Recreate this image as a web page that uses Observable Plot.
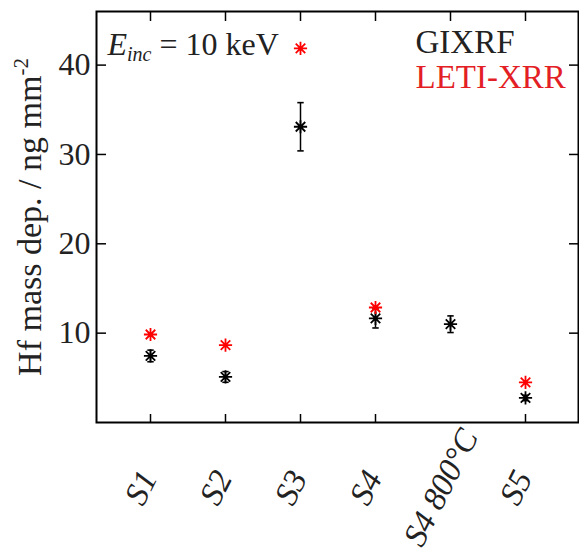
<!DOCTYPE html>
<html><head><meta charset="utf-8">
<script src="https://cdn.jsdelivr.net/npm/d3@7"></script>
<script src="https://cdn.jsdelivr.net/npm/@observablehq/plot@0.6"></script>
<style>html,body{margin:0;padding:0;background:#fff;overflow:hidden} svg{display:block}</style>
</head><body><div id="chart"></div>
<script>
const samples = ["S1", "S2", "S3", "S4", "S4 800°C", "S5"];
const gixrf = [7.45, 5.1, 33.1, 11.65, 11.0, 2.75];
const gixrfErr = [0.65, 0.6, 2.7, 1.07, 0.93, 0.3];
const letiXrr = [9.85, 8.65, 41.87, 12.87, null, 4.48];
const yTicks = [10, 20, 30, 40];
const bottomTicks = ["S1", "S2", "S3", "S4", "S5"];
const seriesNames = ["GIXRF", "LETI-XRR"];
const energyLabel = "E_inc = 10 keV";
const yLabel = "Hf mass dep. / ng mm-2";

const gData = samples.map((s, i) => ({sample: s, value: gixrf[i], err: gixrfErr[i]}));
const lData = samples.map((s, i) => ({sample: s, value: letiXrr[i]})).filter(d => d.value != null);

const asterisk = {draw(ctx, size) {
  const r = Math.sqrt(size / Math.PI), d = r * 0.72;
  ctx.moveTo(-r, 0); ctx.lineTo(r, 0);
  ctx.moveTo(0, -r); ctx.lineTo(0, r);
  ctx.moveTo(-d, -d); ctx.lineTo(d, d);
  ctx.moveTo(-d, d); ctx.lineTo(d, -d);
}};
const cap = {draw(ctx, size) {
  const r = Math.sqrt(size / Math.PI);
  ctx.moveTo(-r, 0); ctx.lineTo(r, 0);
}};

const font = "Liberation Serif";
const chart = Plot.plot({
  width: 579, height: 554,
  marginLeft: 96, marginRight: 1, marginTop: 11, marginBottom: 132,
  style: {background: "white", color: "black"},
  x: {type: "point", domain: samples, padding: 0.68},
  y: {domain: [0, 46]},
  marks: [
    Plot.axisY({anchor: "left", ticks: yTicks, tickSize: -10, tickFormat: () => "", label: null, strokeWidth: 1.5}),
    Plot.axisY({anchor: "left", ticks: yTicks, tickSize: 0, tickPadding: 6, fontSize: 32, label: null, fill: "#222"}),
    Plot.axisY({anchor: "right", ticks: yTicks, tickSize: -10, tickFormat: () => "", label: null, strokeWidth: 1.5}),
    Plot.axisX({anchor: "top", tickSize: -9, tickFormat: () => "", label: null, strokeWidth: 1.5}),
    Plot.axisX({anchor: "bottom", ticks: bottomTicks, tickSize: -8, tickFormat: () => "", label: null, strokeWidth: 1.5}),
    Plot.frame({stroke: "black", strokeWidth: 2}),
    Plot.text(samples, {x: d => d, frameAnchor: "bottom", dy: 70, rotate: -63, textAnchor: "middle", fontSize: 33, fontStyle: "italic", fill: "#222"}),
    Plot.ruleX(gData, {x: "sample", y1: d => d.value - d.err, y2: d => d.value + d.err, stroke: "black", strokeWidth: 1.5}),
    Plot.dot(gData, {x: "sample", y: d => d.value - d.err, symbol: cap, r: 3.2, stroke: "black", strokeWidth: 1.6}),
    Plot.dot(gData, {x: "sample", y: d => d.value + d.err, symbol: cap, r: 3.2, stroke: "black", strokeWidth: 1.6}),
    Plot.dot(gData, {x: "sample", y: "value", symbol: asterisk, r: 6.6, stroke: "black", strokeWidth: 1.8}),
    Plot.dot(lData, {x: "sample", y: "value", symbol: asterisk, r: 6.6, stroke: "red", strokeWidth: 1.8}),
    Plot.text([seriesNames[0]], {frameAnchor: "top-left", dx: 319, dy: 18, lineAnchor: "top", textAnchor: "start", fontSize: 33, fill: "#222"}),
    Plot.text([seriesNames[1]], {frameAnchor: "top-left", dx: 319, dy: 53, lineAnchor: "top", textAnchor: "start", fontSize: 33, fill: "#e31e25"}),
    Plot.text([energyLabel], {frameAnchor: "top-left", dx: 11, dy: 21, lineAnchor: "top", textAnchor: "start", fontSize: 32, fill: "#222"}),
    Plot.text([yLabel], {frameAnchor: "left", dx: -66, rotate: -90, textAnchor: "middle", fontSize: 34, fill: "#222"})
  ]
});
document.getElementById("chart").appendChild(chart);

// Rich text (subscript / superscript) and explicit serif font on every text
const NS = "http://www.w3.org/2000/svg";
function ts(parent, txt, attrs) {
  const t = document.createElementNS(NS, "tspan");
  for (const k in attrs) t.setAttribute(k, attrs[k]);
  t.textContent = txt;
  parent.appendChild(t);
  return t;
}
chart.setAttribute("font-family", font);
chart.querySelectorAll("g").forEach(g => { if (g.hasAttribute("font-family")) g.setAttribute("font-family", font); });
chart.querySelectorAll("text").forEach(el => {
  el.setAttribute("font-family", font);
  if (el.textContent === energyLabel) {
    el.textContent = "";
    ts(el, "E", {"font-style": "italic"});
    ts(el, "inc", {"font-style": "italic", "font-size": "20", dy: "6"});
    ts(el, " = 10 keV", {dy: "-6"});
  } else if (el.textContent === yLabel) {
    el.textContent = "";
    ts(el, "Hf mass dep. / ng mm", {});
    ts(el, "-2", {"font-size": "21", dy: "-13"});
  }
});
</script>
</body></html>
